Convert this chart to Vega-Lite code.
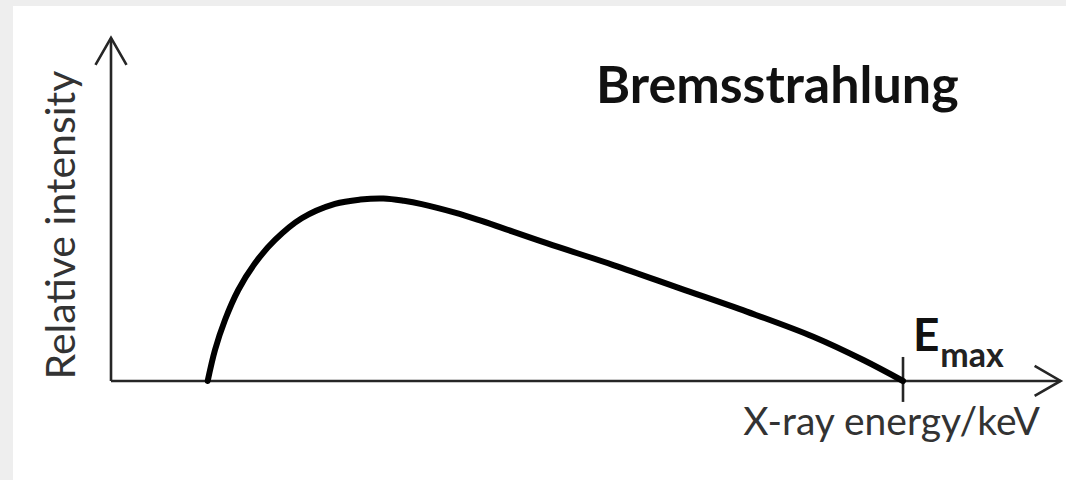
{
  "$schema": "https://vega.github.io/schema/vega-lite/v6.json",
  "width": 1066,
  "height": 480,
  "autosize": {"type": "fit", "contains": "padding"},
  "padding": {"left": 13, "top": 6, "right": 0, "bottom": 0},
  "background": "#eeeeee",
  "config": {"view": {"stroke": null, "fill": "white"}},
  "datasets": {
    "curve": [
      {"E": 12.21, "I": 0.0},
      {"E": 13.13, "I": 0.17},
      {"E": 14.39, "I": 0.335},
      {"E": 16.07, "I": 0.5},
      {"E": 18.18, "I": 0.647},
      {"E": 20.71, "I": 0.775},
      {"E": 24.08, "I": 0.894},
      {"E": 28.28, "I": 0.973},
      {"E": 31.5, "I": 0.997},
      {"E": 34.4, "I": 1.003},
      {"E": 37.0, "I": 0.99},
      {"E": 39.23, "I": 0.972},
      {"E": 43.43, "I": 0.925},
      {"E": 46.59, "I": 0.882},
      {"E": 55.01, "I": 0.757},
      {"E": 63.42, "I": 0.637},
      {"E": 71.84, "I": 0.509},
      {"E": 80.27, "I": 0.381},
      {"E": 88.67, "I": 0.243},
      {"E": 94.99, "I": 0.115},
      {"E": 100.0, "I": 0.0}
    ],
    "axes": [
      {"part": "yaxis", "ord": 1, "E": 0, "I": 0},
      {"part": "yaxis", "ord": 2, "E": 0, "I": 1.885},
      {"part": "xaxis", "ord": 1, "E": 0, "I": 0},
      {"part": "xaxis", "ord": 2, "E": 119.9, "I": 0},
      {"part": "yarrow", "ord": 1, "E": -1.96, "I": 1.737},
      {"part": "yarrow", "ord": 2, "E": 0, "I": 1.885},
      {"part": "yarrow", "ord": 3, "E": 1.96, "I": 1.737},
      {"part": "xarrow", "ord": 1, "E": 116.62, "I": 0.0824},
      {"part": "xarrow", "ord": 2, "E": 119.9, "I": 0},
      {"part": "xarrow", "ord": 3, "E": 116.62, "I": -0.0824},
      {"part": "tick", "ord": 1, "E": 100, "I": 0.132},
      {"part": "tick", "ord": 2, "E": 100, "I": -0.115}
    ],
    "labels": [
      {"key": "title", "text": "Bremsstrahlung", "E": 61.24, "I": 1.527},
      {"key": "ylab", "text": "Relative intensity", "E": -4.55, "I": 0.857},
      {"key": "xlab", "text": "X-ray energy/keV", "E": 117.3, "I": -0.297},
      {"key": "E", "text": "E", "E": 101.26, "I": 0.165},
      {"key": "max", "text": "max", "E": 104.7, "I": 0.077}
    ]
  },
  "encoding": {
    "x": {"field": "E", "type": "quantitative", "axis": null,
          "scale": {"domain": [-12.374, 120.58], "nice": false, "zero": false}},
    "y": {"field": "I", "type": "quantitative", "axis": null,
          "scale": {"domain": [-0.544, 2.0604], "nice": false, "zero": false}}
  },
  "layer": [
    {
      "data": {"values": [{"a": 1}]},
      "mark": {"type": "rect", "clip": true,
               "fill": {"gradient": "linear", "x1": 0, "y1": 0, "x2": 0, "y2": 1,
                        "stops": [{"offset": 0, "color": "#d6d6d6"}, {"offset": 0.25, "color": "#a0a0a0"}, {"offset": 1, "color": "#8a8a8a"}]}},
      "encoding": {
        "x": {"datum": 120.2, "type": "quantitative"},
        "x2": {"datum": 121.5},
        "y": {"datum": 2.0604, "type": "quantitative"},
        "y2": {"datum": -0.544}
      }
    },
    {
      "data": {"name": "axes"},
      "mark": {"type": "line", "color": "#262626", "strokeWidth": 2.6, "strokeJoin": "miter", "strokeCap": "butt"},
      "encoding": {
        "detail": {"field": "part", "type": "nominal"},
        "order": {"field": "ord", "type": "quantitative"}
      }
    },
    {
      "data": {"name": "curve"},
      "mark": {"type": "line", "color": "#000000", "strokeWidth": 6, "interpolate": "catmull-rom", "strokeCap": "round"},
      "encoding": {}
    },
    {
      "data": {"name": "labels"},
      "transform": [{"filter": "datum.key === 'title'"}],
      "mark": {"type": "text", "font": "Lato", "fontWeight": "bold", "fontSize": 52, "align": "left", "baseline": "alphabetic", "color": "#111111"},
      "encoding": {"text": {"field": "text"}}
    },
    {
      "data": {"name": "labels"},
      "transform": [{"filter": "datum.key === 'ylab'"}],
      "mark": {"type": "text", "font": "Lato", "fontSize": 41, "angle": 270, "align": "center", "baseline": "alphabetic", "color": "#333333"},
      "encoding": {"text": {"field": "text"}}
    },
    {
      "data": {"name": "labels"},
      "transform": [{"filter": "datum.key === 'xlab'"}],
      "mark": {"type": "text", "font": "Lato", "fontSize": 39, "align": "right", "baseline": "alphabetic", "color": "#333333"},
      "encoding": {"text": {"field": "text"}}
    },
    {
      "data": {"name": "labels"},
      "transform": [{"filter": "datum.key === 'E'"}],
      "mark": {"type": "text", "font": "Lato", "fontWeight": "bold", "fontSize": 46, "align": "left", "baseline": "alphabetic", "color": "#111111"},
      "encoding": {"text": {"field": "text"}}
    },
    {
      "data": {"name": "labels"},
      "transform": [{"filter": "datum.key === 'max'"}],
      "mark": {"type": "text", "font": "Lato", "fontWeight": "bold", "fontSize": 34, "align": "left", "baseline": "alphabetic", "color": "#222222"},
      "encoding": {"text": {"field": "text"}}
    }
  ]
}
